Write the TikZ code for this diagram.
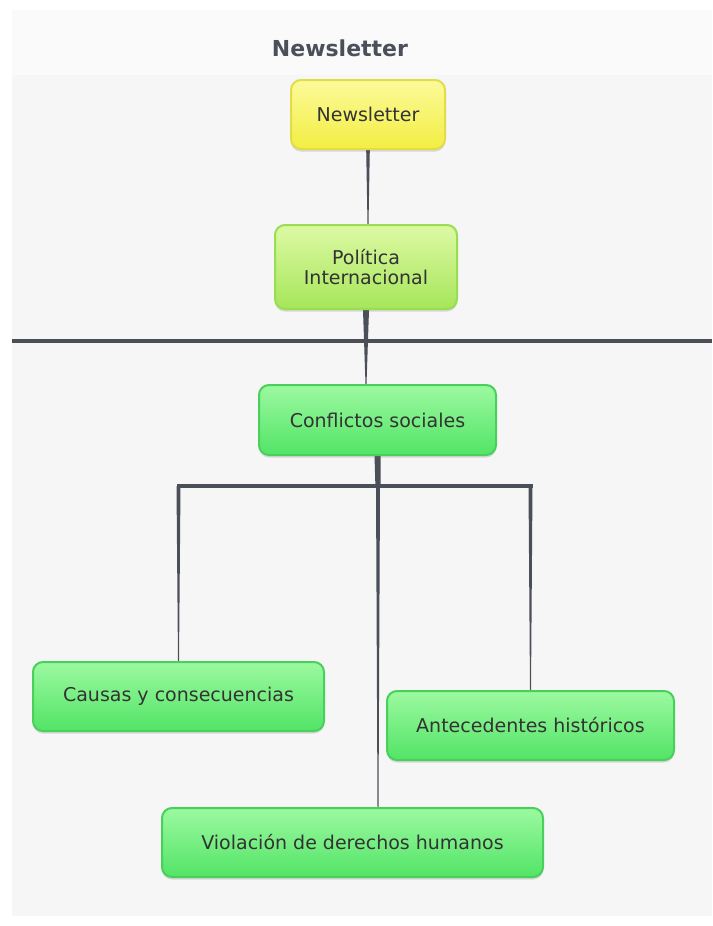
\documentclass[tikz,border=0pt]{standalone}
\usepackage{fontspec}
\setmainfont{DejaVu Sans}
\usetikzlibrary{calc,shadows}
\definecolor{linkcol}{HTML}{4B4F58}
\definecolor{bgcol}{HTML}{F6F6F6}
\definecolor{txtcol}{HTML}{333333}
\definecolor{titlecol}{HTML}{4A4F5A}
\definecolor{yelTop}{HTML}{FCFA9A}
\definecolor{yelBot}{HTML}{F2EE42}
\definecolor{yelBrd}{HTML}{E2DC48}
\definecolor{limeTop}{HTML}{DDF9A4}
\definecolor{limeBot}{HTML}{A6E65A}
\definecolor{limeBrd}{HTML}{98DE50}
\definecolor{grnTop}{HTML}{9CF9A0}
\definecolor{grnBot}{HTML}{52E466}
\definecolor{grnBrd}{HTML}{48D05A}
\pgfdeclarelayer{back}
\pgfdeclarelayer{links}
\pgfsetlayers{back,links,main}
\newcommand{\taperconn}[4]{%
  \fill[linkcol] ($#1+(-#3,0)$) -- ($#1+(#3,0)$) -- ($#2+(#4,0)$) -- ($#2+(-#4,0)$) -- cycle;}
\tikzset{
  box/.style={rounded corners=10pt, line width=2pt, align=center,
    text=txtcol, font=\fontsize{19}{20}\selectfont, inner sep=0pt,
    drop shadow={shadow xshift=0pt, shadow yshift=-2.5pt, opacity=0.22, fill=black!60}},
  yelbox/.style={box, draw=yelBrd, top color=yelTop, bottom color=yelBot},
  limebox/.style={box, draw=limeBrd, top color=limeTop, bottom color=limeBot},
  grnbox/.style={box, draw=grnBrd, top color=grnTop, bottom color=grnBot},
  titletext/.style={text=titlecol, font=\fontsize{22}{26}\selectfont\bfseries}
}
\begin{document}
\begin{tikzpicture}[x=1pt,y=-1pt]
\useasboundingbox (0,0) rectangle (712,926);
\begin{pgfonlayer}{back}
  \fill[white] (0,0) rectangle (712,926);
  \fill[bgcol] (12,10) rectangle (712,916);
  \fill[white!50!bgcol] (12,10) rectangle (712,75);
\end{pgfonlayer}

\node[titletext] (title) at (340,48) {Newsletter};

\node[yelbox, minimum width=154, minimum height=69] (nl) at (368,114.5) {Newsletter};
\node[limebox, minimum width=182, minimum height=84] (pi) at (366,267) {Política\\Internacional};
\node[grnbox, minimum width=237, minimum height=70] (cs) at (377.5,420) {Conflictos sociales};
\node[grnbox, minimum width=291, minimum height=69] (cc) at (178.5,696.5) {Causas y consecuencias};
\node[grnbox, minimum width=287, minimum height=69] (ah) at (530.5,725.5) {Antecedentes históricos};
\node[grnbox, minimum width=381, minimum height=69] (vd) at (352.5,842.5) {Violación de derechos humanos};

\coordinate (hl) at (12,341);
\coordinate (hr) at (712,341);
\coordinate (bar) at (378,486);

\begin{pgfonlayer}{links}
  % Newsletter -> Politica
  \taperconn{(nl.south)}{(nl.south |- pi.north)}{1.8}{0.5}
  % horizontal divider
  \draw[linkcol, line width=4.5pt] (hl) -- (hr);
  % Politica -> Conflictos
  \taperconn{(pi.south)}{(pi.south |- cs.north)}{3}{0.5}
  % Conflictos -> bar
  \taperconn{(cs.south)}{(bar)}{3}{2.6}
  \draw[linkcol, line width=4pt, line cap=rect] (cc.north |- bar) -- (ah.north |- bar);
  % drops
  \taperconn{(cc.north |- bar)}{(cc.north)}{2}{0.5}
  \taperconn{(ah.north |- bar)}{(ah.north)}{2}{0.5}
  \taperconn{(bar)}{(bar |- vd.north)}{2}{0.5}
\end{pgfonlayer}
\end{tikzpicture}
\end{document}
